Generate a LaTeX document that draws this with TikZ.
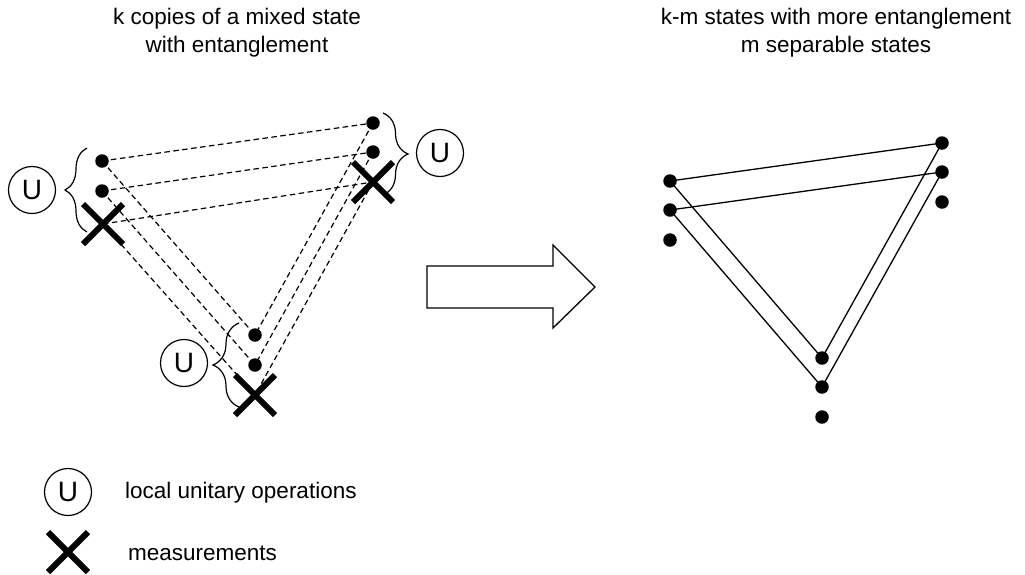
\documentclass[tikz,border=0pt]{standalone}
\usepackage{fontspec}
\setmainfont{Liberation Sans}
\usetikzlibrary{shapes.misc,decorations.pathreplacing,backgrounds}
\tikzset{
  dot/.style={circle,fill=black,inner sep=0pt,minimum size=13.5pt},
  meas/.style={cross out,draw=black,line width=6pt,inner sep=0pt,minimum size=34pt},
  ucirc/.style={circle,draw=black,line width=1.2pt,inner sep=0pt,minimum size=47pt,font=\fontsize{28}{28}\selectfont},
  dline/.style={line width=1.2pt,dash pattern=on 5.5pt off 3.5pt},
  sline/.style={line width=1.3pt},
  brc/.style={line width=1.2pt,decorate,decoration={brace,amplitude=#1}},
  txt/.style={font=\fontsize{22.5}{27}\selectfont,inner sep=0pt},
}
\begin{document}
\begin{tikzpicture}[x=1pt,y=-1pt]
\useasboundingbox (0,0) rectangle (1025,574);
% titles
\node[txt,anchor=base] (t1) at (237,24) {k copies of a mixed state};
\node[txt,anchor=base] (t2) at (237,52) {with entanglement};
\node[txt,anchor=base] (t3) at (836,24) {k-m states with more entanglement};
\node[txt,anchor=base] (t4) at (836,52) {m separable states};
% left diagram
\node[dot] (a1) at (102,161) {};
\node[dot] (a2) at (102,191) {};
\node[meas] (a3) at (103,224) {};
\node[dot] (b1) at (373,123) {};
\node[dot] (b2) at (373,152) {};
\node[meas] (b3) at (373,182) {};
\node[dot] (c1) at (255,335) {};
\node[dot] (c2) at (255,365) {};
\node[meas] (c3) at (255,395) {};
\begin{scope}[on background layer]
\foreach \i in {1,2,3}{
  \draw[dline] (a\i.center) -- (b\i.center);
  \draw[dline] (a\i.center) -- (c\i.center);
  \draw[dline] (b\i.center) -- (c\i.center);
}
\end{scope}
% braces and U
\draw[brc=22pt] (87,232) -- (87,148);
\draw[brc=25pt] (383,113) -- (383,195);
\draw[brc=26pt] (239,407) -- (239,323);
\node[ucirc] (ua) at (32,190) {U};
\node[ucirc] (ub) at (440,153) {U};
\node[ucirc] (uc) at (184,363) {U};
% big arrow
\draw[line width=1.3pt,line join=miter] (427,266) -- (553,266) -- (553,245) -- (595,287) -- (553,328) -- (553,308) -- (427,308) -- cycle;
% right diagram
\node[dot] (p1) at (670,181) {};
\node[dot] (p2) at (670,210) {};
\node[dot] (p3) at (670,240) {};
\node[dot] (q1) at (942,143) {};
\node[dot] (q2) at (942,172) {};
\node[dot] (q3) at (942,202) {};
\node[dot] (r1) at (822,358) {};
\node[dot] (r2) at (822,387) {};
\node[dot] (r3) at (822,417) {};
\begin{scope}[on background layer]
\foreach \i in {1,2}{
  \draw[sline] (p\i.center) -- (q\i.center);
  \draw[sline] (p\i.center) -- (r\i.center);
  \draw[sline] (q\i.center) -- (r\i.center);
}
\end{scope}
% legend
\node[ucirc] (lu) at (68,492) {U};
\node[txt,anchor=west] (l1) at (125,493) {local unitary operations};
\node[meas] (lx) at (68,552) {};
\node[txt,anchor=west] (l2) at (128,553) {measurements};
\end{tikzpicture}
\end{document}
